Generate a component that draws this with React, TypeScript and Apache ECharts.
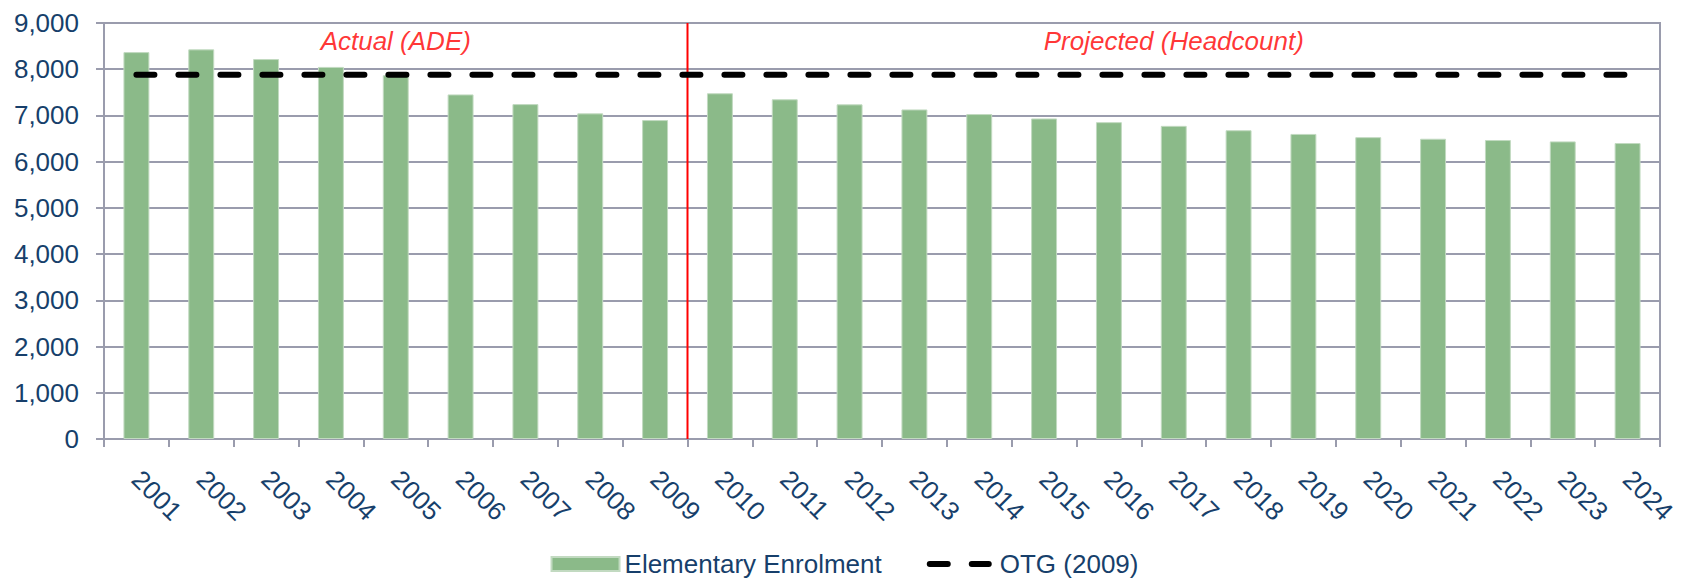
import React, { useEffect, useRef } from "react";
import * as echarts from "echarts";

const years = [
  "2001", "2002", "2003", "2004", "2005", "2006", "2007", "2008", "2009", "2010", "2011", "2012",
  "2013", "2014", "2015", "2016", "2017", "2018", "2019", "2020", "2021", "2022", "2023", "2024",
];
const enrolment = [
  8370, 8430, 8220, 8050, 7870, 7455, 7245, 7045, 6900, 7480, 7350, 7240,
  7130, 7030, 6935, 6855, 6775, 6680, 6600, 6530, 6496, 6468, 6439, 6403,
];
const otgValue = 7880;
const otg = years.map(() => otgValue);
const dividerIndex = 9; // boundary between 2009 (actual) and 2010 (projected)
const periodLabels = ["Actual (ADE)", "Projected (Headcount)"];
const periodCenters = [4.5, 16.5];
const periodLabelValue = 8620;

const FONT = "'Liberation Sans', Arial, sans-serif";
const TEXT = "#173F6B";
const GRID = "#9A9CAD";

// two rounded dashes, with invisible zero-area anchors so the icon box is 68 x 14
const DASH_ICON =
  "path://M0,0 L0.01,0 Z M0,14 L0.01,14 Z M68,0 L67.99,0 Z " +
  "M3,4 L21,4 A3,3 0 0 1 21,10 L3,10 A3,3 0 0 1 3,4 Z " +
  "M45,4 L62,4 A3,3 0 0 1 62,10 L45,10 A3,3 0 0 1 45,4 Z";

export default function App() {
  const ref = useRef<HTMLDivElement>(null);
  useEffect(() => {
    document.body.style.margin = "0";
    if (!ref.current) return;
    const chart = echarts.init(ref.current, undefined, { renderer: "svg" });
    chart.setOption({
      animation: false,
      backgroundColor: "#ffffff",
      textStyle: { fontFamily: FONT },
      grid: {
        left: 104,
        right: 29,
        top: 23,
        bottom: 139,
        show: true,
        borderColor: GRID,
        borderWidth: 2,
        outerBoundsMode: "none",
      },
      legend: {
        data: [
          { name: "Elementary Enrolment", icon: "rect" },
          { name: "OTG (2009)", icon: DASH_ICON, itemStyle: { color: "#000000" } },
        ],
        left: "center",
        top: 546,
        itemWidth: 68,
        itemHeight: 14,
        itemGap: 45,
        textStyle: { color: TEXT, fontSize: 26, fontFamily: FONT },
      },
      xAxis: [
        {
          type: "category",
          data: years,
          axisLine: { lineStyle: { color: GRID, width: 2 } },
          axisTick: { show: true, length: 8, lineStyle: { color: GRID, width: 2 } },
          axisLabel: {
            rotate: -45,
            margin: 36,
            color: TEXT,
            fontSize: 26,
            fontFamily: FONT,
            interval: 0,
          },
          splitLine: { show: false },
        },
        {
          type: "value",
          min: 0,
          max: years.length,
          show: false,
          position: "bottom",
        },
      ],
      yAxis: {
        type: "value",
        min: 0,
        max: 9000,
        interval: 1000,
        axisLine: { show: true, lineStyle: { color: GRID, width: 2 } },
        axisTick: { show: true, length: 8, lineStyle: { color: GRID, width: 2 } },
        axisLabel: {
          margin: 25,
          color: TEXT,
          fontSize: 26,
          fontFamily: FONT,
          formatter: (v: number) => v.toLocaleString("en-US"),
        },
        splitLine: { show: true, lineStyle: { color: GRID, width: 2 } },
      },
      series: [
        {
          name: "Elementary Enrolment",
          type: "bar",
          data: enrolment,
          barCategoryGap: "60%",
          itemStyle: { color: "#8BBA89", borderColor: "#C2DAC1", borderWidth: 1 },
          z: 2,
        },
        {
          name: "Divider",
          type: "line",
          xAxisIndex: 1,
          data: [
            [dividerIndex, 0],
            [dividerIndex, 9000],
          ],
          symbol: "none",
          silent: true,
          lineStyle: { color: "#FF0000", width: 2 },
          z: 3,
        },
        {
          name: "OTG (2009)",
          type: "line",
          data: otg,
          symbol: "none",
          lineStyle: { color: "#000000", width: 6, type: [18, 24], cap: "round" },
          itemStyle: { color: "#000000" },
          z: 4,
        },
        {
          name: "Periods",
          type: "scatter",
          xAxisIndex: 1,
          symbolSize: 1,
          silent: true,
          itemStyle: { color: "rgba(0,0,0,0)" },
          data: periodLabels.map((t, i) => ({ name: t, value: [periodCenters[i], periodLabelValue] })),
          label: {
            show: true,
            position: "inside",
            formatter: "{b}",
            color: "#FF0000",
            fontStyle: "italic",
            fontSize: 26,
            fontFamily: FONT,
          },
          z: 5,
        },
      ],
    });
    return () => chart.dispose();
  }, []);
  return <div ref={ref} style={{ width: 1689, height: 578 }} />;
}
